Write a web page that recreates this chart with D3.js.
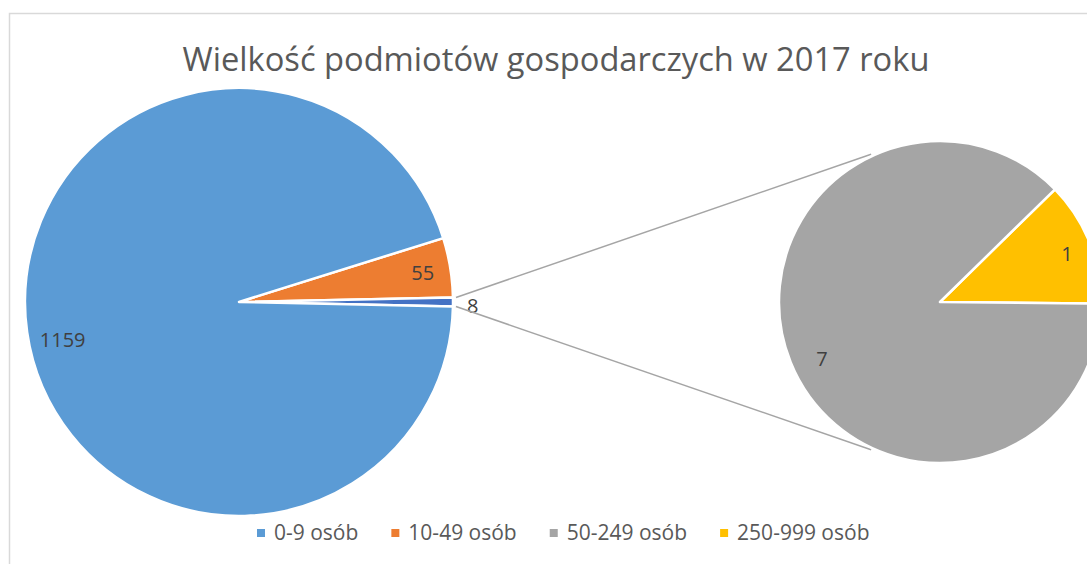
<!DOCTYPE html>
<html>
<head>
<meta charset="utf-8">
<script src="https://cdn.jsdelivr.net/npm/d3@7"></script>
<style>
  body { margin: 0; background: #fff; }
  text { font-family: "Open Sans", sans-serif; }
</style>
</head>
<body>
<div class="chart"></div>
<script>
const title = "Wielkość podmiotów gospodarczych w 2017 roku";
const categories = ["0-9 osób", "10-49 osób", "50-249 osób", "250-999 osób"];
const values = [1159, 55, 7, 1];
const colors = ["#5B9BD5", "#ED7D31", "#A5A5A5", "#FFC000"];
const otherColor = "#4472C4";

function build() {
    let svgW = 1087,
        svgH = 564,
        mainCx = 239,
        mainCy = 302,
        mainR = 214,
        subCx = 940,
        subCy = 302,
        subR = 161,
        labelFrac = 0.87,
        subLabelFrac = 0.83;

    const svg = d3.select(".chart")
        .append("svg")
        .attr("width", svgW)
        .attr("height", svgH);

    // chart border
    svg.append("rect")
        .attr("x", 9.5)
        .attr("y", 13.5)
        .attr("width", 1200)
        .attr("height", 600)
        .attr("fill", "none")
        .attr("stroke", "#D9D9D9")
        .attr("stroke-width", 1.5);

    const t = svg.append("text")
        .attr("x", 556)
        .attr("y", 71)
        .attr("text-anchor", "middle")
        .attr("fill", "#595959")
        .attr("font-size", 32)
        .text(title);
    let tw = t.node().getComputedTextLength();
    t.attr("font-size", 32 * 747 / tw);

    // main pie: 0-9, 10-49, and "other" (the rest)
    const otherVal = d3.sum(values.slice(2));
    const mainData = [
        {name: categories[1], value: values[1], color: colors[1]},
        {name: "other", value: otherVal, color: otherColor},
        {name: categories[0], value: values[0], color: colors[0]}
    ];
    const total = d3.sum(mainData, d => d.value);
    const mainStart = Math.PI / 2 - (otherVal / 2 + values[1]) / total * 2 * Math.PI;

    const mainPie = d3.pie()
        .sort(null)
        .value(d => d.value)
        .startAngle(mainStart)
        .endAngle(mainStart + 2 * Math.PI);

    const mainArc = d3.arc().innerRadius(0).outerRadius(mainR);
    const mainLabelArc = d3.arc().innerRadius(mainR * labelFrac).outerRadius(mainR * labelFrac);

    const mainG = svg.append("g").attr("transform", `translate(${mainCx},${mainCy})`);
    const mainArcs = mainPie(mainData);

    mainG.selectAll("path")
        .data(mainArcs)
        .enter()
        .append("path")
        .attr("d", mainArc)
        .attr("fill", d => d.data.color)
        .attr("stroke", "#fff")
        .attr("stroke-width", 2.5)
        .attr("stroke-linejoin", "round");

    mainG.selectAll("text")
        .data(mainArcs)
        .enter()
        .append("text")
        .attr("x", d => d.data.name === "other" ? mainR + 14 : mainLabelArc.centroid(d)[0] + (d.data.name === categories[0] ? 8 : 0))
        .attr("y", d => d.data.name === "other" ? 3 : mainLabelArc.centroid(d)[1] + (d.data.name === categories[0] ? 10 : 0))
        .attr("text-anchor", d => d.data.name === "other" ? "start" : "middle")
        .attr("dy", "0.42em")
        .attr("fill", "#404040")
        .attr("font-size", 20)
        .text(d => d.data.value);

    // secondary pie
    const subData = [
        {name: categories[3], value: values[3], color: colors[3]},
        {name: categories[2], value: values[2], color: colors[2]}
    ];
    const subStart = Math.PI / 2 - values[3] / otherVal * 2 * Math.PI + 0.01;
    const subPie = d3.pie()
        .sort(null)
        .value(d => d.value)
        .startAngle(subStart)
        .endAngle(subStart + 2 * Math.PI);
    const subArc = d3.arc().innerRadius(0).outerRadius(subR);
    const subLabelArc = d3.arc().innerRadius(subR * subLabelFrac).outerRadius(subR * subLabelFrac);

    // connector lines
    const other = mainArcs[1];
    const connAngle = 25 * Math.PI / 180;
    const lines = [
        {a1: other.startAngle, a2: -connAngle},
        {a1: other.endAngle, a2: Math.PI + connAngle}
    ];
    svg.selectAll("line.conn")
        .data(lines)
        .enter()
        .append("line")
        .attr("class", "conn")
        .attr("x1", d => mainCx + (mainR + 3) * Math.sin(d.a1))
        .attr("y1", d => mainCy - (mainR + 3) * Math.cos(d.a1))
        .attr("x2", d => subCx + (subR + 2) * Math.sin(d.a2))
        .attr("y2", d => subCy - (subR + 2) * Math.cos(d.a2))
        .attr("stroke", "#A5A5A5")
        .attr("stroke-width", 1.5);

    const subG = svg.append("g").attr("transform", `translate(${subCx},${subCy})`);
    const subArcs = subPie(subData);
    subG.selectAll("path")
        .data(subArcs)
        .enter()
        .append("path")
        .attr("d", subArc)
        .attr("fill", d => d.data.color)
        .attr("stroke", "#fff")
        .attr("stroke-width", 2.5)
        .attr("stroke-linejoin", "round");

    subG.selectAll("text")
        .data(subArcs)
        .enter()
        .append("text")
        .attr("x", d => subLabelArc.centroid(d)[0] + (d.data.name === categories[2] ? 6 : 3))
        .attr("y", d => subLabelArc.centroid(d)[1] + (d.data.name === categories[2] ? 6 : 0))
        .attr("text-anchor", "middle")
        .attr("dy", "0.42em")
        .attr("fill", "#404040")
        .attr("font-size", 20)
        .text(d => d.data.value);

    // legend
    const legend = svg.append("g").attr("transform", "translate(0,533)");
    let lx = 257;
    categories.forEach((c, i) => {
        legend.append("rect")
            .attr("x", lx)
            .attr("y", -4)
            .attr("width", 8)
            .attr("height", 8)
            .attr("fill", colors[i]);
        const txt = legend.append("text")
            .attr("x", lx + 17)
            .attr("y", 0)
            .attr("dy", "0.35em")
            .attr("fill", "#595959")
            .attr("font-size", 21)
            .text(c);
        lx += 17 + txt.node().getComputedTextLength() + 33;
    });
}

build();
</script>
</body>
</html>
